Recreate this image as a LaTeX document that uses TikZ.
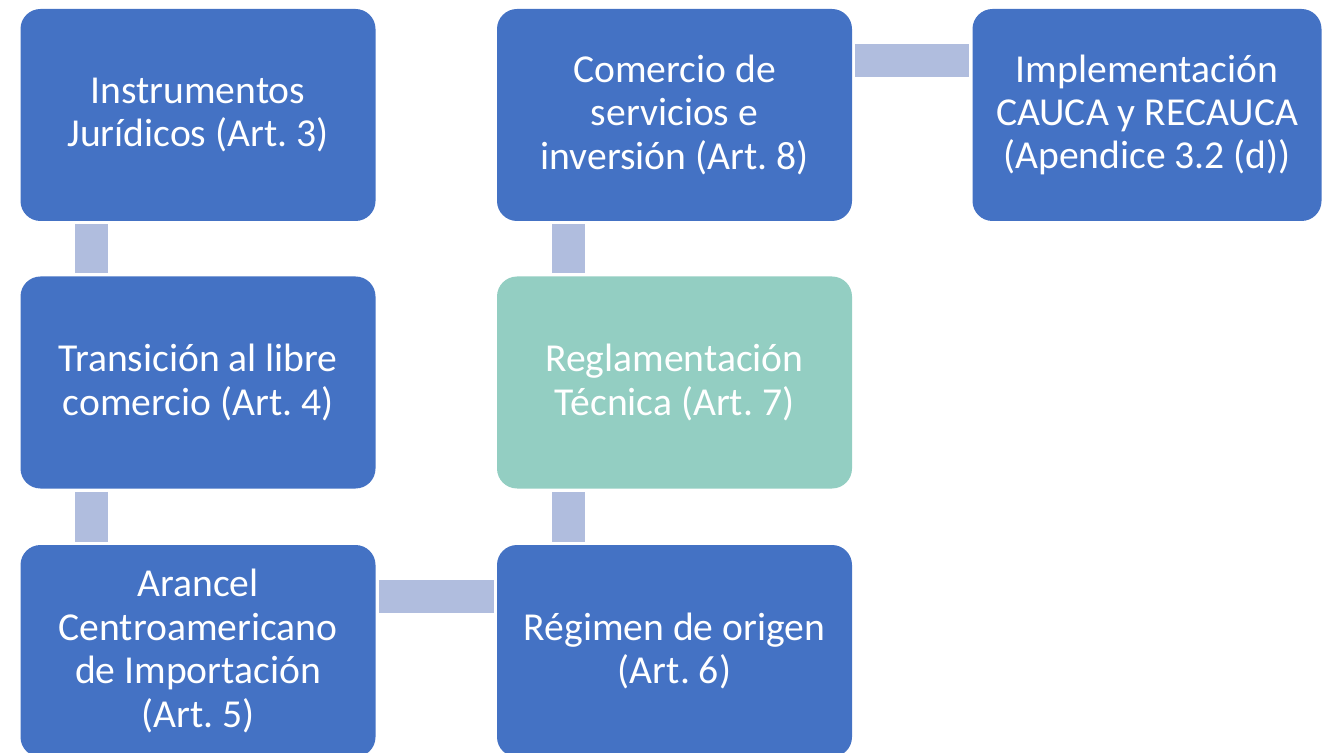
\documentclass[tikz,border=0pt]{standalone}
\usepackage{fontspec}
\setmainfont{Carlito}
\frenchspacing
\definecolor{boxblue}{RGB}{68,114,196}
\definecolor{boxteal}{RGB}{147,206,194}
\definecolor{barblue}{RGB}{176,189,222}
\usetikzlibrary{positioning,calc}

\begin{document}
\begin{tikzpicture}[x=0.5pt, y=-0.5pt,
    article/.style={fill=boxblue, rounded corners=10pt, minimum width=177.5pt,
        minimum height=106pt, align=center, text=white, inner sep=2pt,
        font=\fontsize{19.8}{21.7}\selectfont},
    link/.style={draw=barblue, line width=16.5pt, shorten <=1.5pt, shorten >=1.5pt}]
    \clip (0,0) rectangle (1322,753);
    % left column
    \node[article] (instr) at (198,115) {Instrumentos\\Jurídicos (Art. 3)};
    \node[article] (trans) at (198,382.5) {Transición al libre\\comercio (Art. 4)};
    \node[article] (arancel) at (198,651) {Arancel\\Centroamericano\\de Importación\\(Art. 5)};
    % middle column
    \node[article] (origen) at (674.5,651) {Régimen de origen\\(Art. 6)};
    \node[article, fill=boxteal] (regla) at (674.5,382.5) {Reglamentación\\Técnica (Art. 7)};
    \node[article] (servic) at (674.5,115) {Comercio de\\servicios e\\inversión (Art. 8)};
    % right
    \node[article, minimum width=174.5pt] (cauca) at (1147,115) {Implementación\\CAUCA y RECAUCA\\(Apendice 3.2 (d))};

    \draw[link] ([xshift=35.75pt]instr.south west) -- ([xshift=35.75pt]trans.north west);
    \draw[link] ([xshift=35.75pt]trans.south west) -- ([xshift=35.75pt]arancel.north west);
    \draw[link] ([yshift=-25.75pt]arancel.north east) -- ([yshift=-25.75pt]origen.north west);
    \draw[link] ([xshift=35.75pt]origen.north west) -- ([xshift=35.75pt]regla.south west);
    \draw[link] ([xshift=35.75pt]regla.north west) -- ([xshift=35.75pt]servic.south west);
    \draw[link] ([yshift=-25.75pt]servic.north east) -- ([yshift=-25.75pt]cauca.north west);
\end{tikzpicture}
\end{document}
